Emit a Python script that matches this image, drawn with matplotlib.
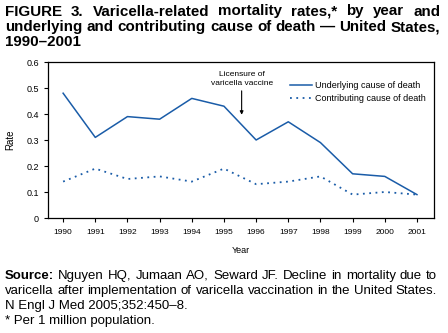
import matplotlib.pyplot as plt

plt.rcParams['font.family'] = ['Liberation Sans', 'DejaVu Sans']

years = [1990, 1991, 1992, 1993, 1994, 1995, 1996, 1997, 1998, 1999, 2000, 2001]
underlying = [0.48, 0.31, 0.39, 0.38, 0.46, 0.43, 0.30, 0.37, 0.29, 0.17, 0.16, 0.09]
contributing = [0.14, 0.19, 0.15, 0.16, 0.14, 0.19, 0.13, 0.14, 0.16, 0.09, 0.10, 0.09]
yticks = [0, 0.1, 0.2, 0.3, 0.4, 0.5, 0.6]
ytick_labels = ['0', '0.1', '0.2', '0.3', '0.4', '0.5', '0.6']

blue = '#1a5ca8'
W, H = 448, 333

fig = plt.figure(figsize=(W / 100, H / 100), dpi=100)
renderer = fig.canvas.get_renderer()


def justified(words, y_px, x0=5, x1=440, lead=None, **kw):
    # put words on one baseline so that the line fills x0..x1 (pixels)
    texts = []
    if lead is not None:
        texts.append(fig.text(0, 1 - y_px / H, lead, va='baseline', ha='left',
                              fontsize=kw['fontsize'], fontweight='bold'))
    texts += [fig.text(0, 1 - y_px / H, w, va='baseline', ha='left', **kw) for w in words]
    widths = [t.get_window_extent(renderer).width for t in texts]
    gap = (x1 - x0 - sum(widths)) / max(len(texts) - 1, 1)
    x = x0
    for t, w in zip(texts, widths):
        t.set_x(x / W)
        x += w + gap


# axes box in pixels: x 48..434, y 62..218 (from top)
ax = fig.add_axes([48 / W, 1 - 218 / H, 386 / W, 156 / H])

ax.plot(years, underlying, color=blue, lw=1.1, label='Underlying cause of death')
ax.plot(years, contributing, color=blue, lw=1.3, linestyle=(0, (1, 2.5)),
        label='Contributing cause of death')

ax.set_xlim(1989.53, 2001.53)
ax.set_ylim(0, 0.6)
ax.set_xticks(years)
ax.set_xticklabels([str(y) for y in years], fontsize=6)
ax.set_yticks(yticks)
ax.set_yticklabels(ytick_labels, fontsize=6.5)
ax.tick_params(direction='out', length=3, width=0.8)
ax.tick_params(axis='x', pad=5)
for s in ax.spines.values():
    s.set_linewidth(0.9)
ax.set_xlabel('Year', fontsize=6.5, labelpad=7)
ax.set_ylabel('Rate', fontsize=7, labelpad=8)

ax.annotate('Licensure of\nvaricella vaccine', xy=(1995.55, 0.397), xytext=(1995.55, 0.505),
            ha='center', va='bottom', fontsize=6, linespacing=1.25,
            arrowprops=dict(arrowstyle='-|>', color='black', lw=0.8, mutation_scale=5,
                            shrinkA=1, shrinkB=0))

ax.legend(loc='upper right', fontsize=6.5, frameon=False, handlelength=2.4,
          handletextpad=0.4, labelspacing=0.45, bbox_to_anchor=(1.0, 0.93))

title_font = dict(fontsize=10.9, fontweight='bold')
justified('FIGURE 3. Varicella-related mortality rates,* by year and'.split(), 15.5,
          **title_font)
justified('underlying and contributing cause of death \u2014 United States,'.split(), 31,
          **title_font)
fig.text(5 / W, 1 - 46.5 / H, '1990\u20132001', va='baseline', ha='left', **title_font)

foot_font = dict(fontsize=9.5)
justified('Nguyen HQ, Jumaan AO, Seward JF. Decline in mortality due to'.split(), 279,
          x1=437, lead='Source:', **foot_font)
justified('varicella after implementation of varicella vaccination in the United States.'.split(),
          294, x1=437, **foot_font)
fig.text(5 / W, 1 - 309 / H, 'N Engl J Med 2005;352:450\u20138.', va='baseline', ha='left',
         **foot_font)
fig.text(5 / W, 1 - 324 / H, '* Per 1 million population.', va='baseline', ha='left',
         **foot_font)

fig.savefig('out.png', dpi=100)
